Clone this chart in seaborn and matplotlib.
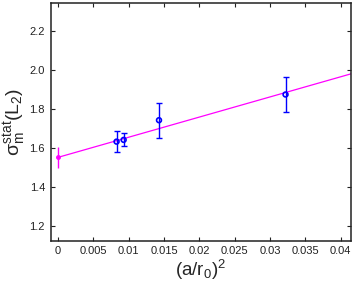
import numpy as np
import pandas as pd
import matplotlib
matplotlib.use('Agg')
import matplotlib.pyplot as plt
import seaborn as sns

# lattice data points
a_r0_sq = [0.0083, 0.0093, 0.0143, 0.0322]
sigma_vals = [1.634, 1.643, 1.744, 1.876]
sigma_errs = [0.053, 0.034, 0.089, 0.088]

# continuum extrapolation
cont_x = [0.0]
cont_val = [1.553]
cont_err = [0.055]
fit_slope = 10.35

x_ticks = [0, 0.005, 0.01, 0.015, 0.02, 0.025, 0.03, 0.035, 0.04]
x_tick_labels = ['0', '0.005', '0.01', '0.015', '0.02', '0.025', '0.03', '0.035', '0.04']
y_ticks = [1.2, 1.4, 1.6, 1.8, 2.0, 2.2]
y_tick_labels = ['1.2', '1.4', '1.6', '1.8', '2.0', '2.2']

sns.set_style('ticks')
plt.rcParams['font.family'] = ['Liberation Sans', 'DejaVu Sans']
plt.rcParams['mathtext.fontset'] = 'custom'
plt.rcParams['mathtext.rm'] = 'Liberation Sans'
plt.rcParams['mathtext.it'] = 'Liberation Sans'
plt.rcParams['mathtext.bf'] = 'Liberation Sans:bold'

fig = plt.figure(figsize=(3.54, 2.89), dpi=100)
ax = fig.add_axes([0.143, 0.167, 0.8485, 0.824])

xlim = (-0.00103, 0.04146)
fit_df = pd.DataFrame({'x': [cont_x[0], xlim[1] + 0.001]})
fit_df['y'] = cont_val[0] + fit_slope * fit_df['x']
sns.lineplot(data=fit_df, x='x', y='y', color='#ff00ff', linewidth=0.9, ax=ax)

ax.errorbar(cont_x, cont_val, yerr=cont_err, fmt='o', color='#ff00ff',
            markersize=2.5, elinewidth=1.0, capsize=0)

ax.errorbar(a_r0_sq, sigma_vals, yerr=sigma_errs, fmt='none', ecolor='#0000ff',
            elinewidth=1.0, capsize=2, capthick=1.0)
sns.scatterplot(x=a_r0_sq, y=sigma_vals, marker='o', s=12, facecolor='none',
                edgecolor='#0000ff', linewidth=1.2, ax=ax, zorder=5)

ax.set_xlim(*xlim)
ax.set_ylim(1.125, 2.348)
ax.set_xticks(x_ticks)
ax.set_xticklabels(x_tick_labels)
ax.set_yticks(y_ticks)
ax.set_yticklabels(y_tick_labels)
ax.tick_params(direction='in', top=True, right=True, length=3, width=0.8,
               labelsize=8, pad=4, colors='#222222')
for sp in ax.spines.values():
    sp.set_linewidth(1.1)
    sp.set_color('#222222')

ax.set_xlabel(r'$\mathrm{(a/r_0)^2}$', fontsize=13.5, labelpad=1)
ax.set_ylabel(r'$\sigma_\mathrm{m}^\mathrm{stat}\mathrm{(L_2)}$', fontsize=14, labelpad=1)

fig.savefig('out.png', dpi=100)
